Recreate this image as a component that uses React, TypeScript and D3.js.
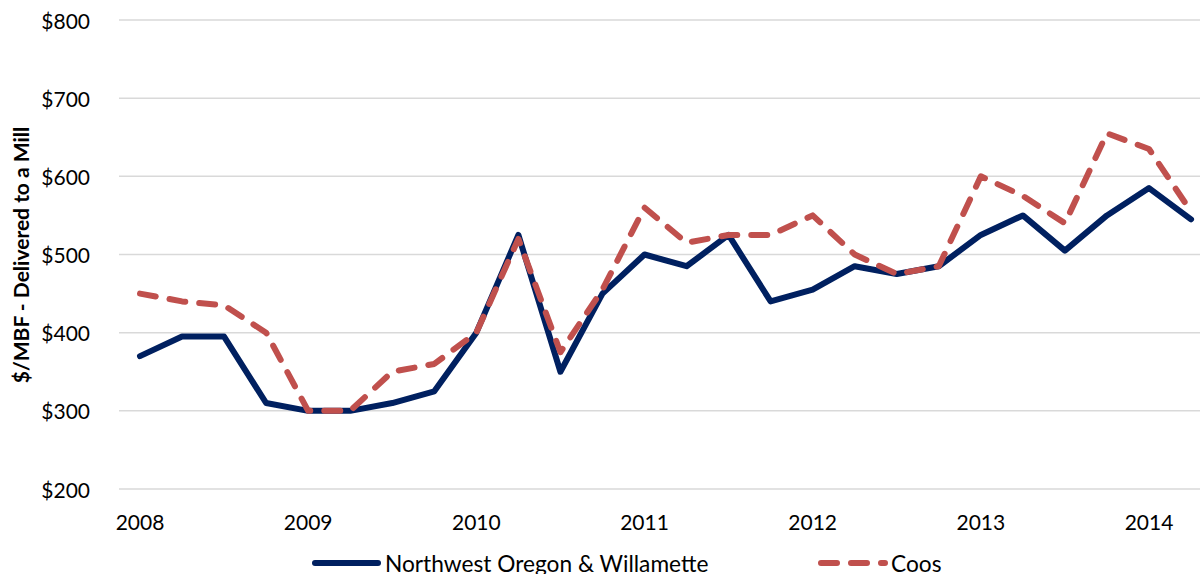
import React from "react";
import * as d3 from "d3";

// Quarterly log prices, $/MBF delivered to a mill
const quarters: number[] = [
  2008, 2008.25, 2008.5, 2008.75,
  2009, 2009.25, 2009.5, 2009.75,
  2010, 2010.25, 2010.5, 2010.75,
  2011, 2011.25, 2011.5, 2011.75,
  2012, 2012.25, 2012.5, 2012.75,
  2013, 2013.25, 2013.5, 2013.75,
  2014, 2014.25,
];

const nwOregonWillamette: number[] = [
  370, 395, 395, 310,
  300, 300, 310, 325,
  400, 525, 350, 450,
  500, 485, 525, 440,
  455, 485, 475, 485,
  525, 550, 505, 550,
  585, 545,
];

const coos: number[] = [
  450, 440, 435, 400,
  300, 300, 350, 360,
  400, 520, 375, 455,
  560, 515, 525, 525,
  550, 500, 475, 485,
  600, 575, 540, 655,
  635, 555,
];

const yTicks: number[] = [200, 300, 400, 500, 600, 700, 800];
const xTicks: number[] = [2008, 2009, 2010, 2011, 2012, 2013, 2014];

const seriesNames = ["Northwest Oregon & Willamette", "Coos"];

const WIDTH = 1200;
const HEIGHT = 574;
const NAVY = "#002060";
const RED = "#C0504D";
const GRID = "#D9D9D9";
const FONT = "Lato, 'Open Sans', sans-serif";

export default function App() {
  const x = d3.scaleLinear().domain([2008, 2014]).range([140, 1149]);
  const y = d3.scaleLinear().domain([200, 800]).range([489, 20]);

  const line = d3
    .line<[number, number]>()
    .x((d) => x(d[0]))
    .y((d) => y(d[1]));

  const navyPts: [number, number][] = quarters.map((q, i) => [q, nwOregonWillamette[i]]);
  const coosPts: [number, number][] = quarters.map((q, i) => [q, coos[i]]);

  return (
    <svg
      width={WIDTH}
      height={HEIGHT}
      style={{ position: "absolute", left: 0, top: 0, background: "#fff" }}
      fontFamily={FONT}
    >
      {/* horizontal gridlines */}
      {yTicks.map((t) => (
        <line
          key={`g${t}`}
          x1={119}
          x2={1200}
          y1={y(t)}
          y2={y(t)}
          stroke={GRID}
          strokeWidth={1.5}
        />
      ))}

      {/* y tick labels */}
      {yTicks.map((t) => (
        <text
          key={`yl${t}`}
          x={90}
          y={y(t)}
          textAnchor="end"
          dominantBaseline="central"
          fontSize={21}
          fill="#000"
        >
          {d3.format("$,")(t)}
        </text>
      ))}

      {/* x tick labels */}
      {xTicks.map((t) => (
        <text
          key={`xl${t}`}
          x={x(t)}
          y={521}
          textAnchor="middle"
          dominantBaseline="central"
          fontSize={21}
          fill="#000"
        >
          {t}
        </text>
      ))}

      {/* y axis title */}
      <text
        transform={`translate(20, 255) rotate(-90)`}
        textAnchor="middle"
        dominantBaseline="central"
        fontSize={21}
        fontWeight="bold"
        fill="#000"
      >
        $/MBF - Delivered to a Mill
      </text>

      {/* series */}
      <path
        d={line(navyPts) ?? ""}
        fill="none"
        stroke={NAVY}
        strokeWidth={6}
        strokeLinejoin="round"
        strokeLinecap="round"
      />
      <path
        d={line(coosPts) ?? ""}
        fill="none"
        stroke={RED}
        strokeWidth={6}
        strokeDasharray="16 14"
        strokeLinejoin="round"
        strokeLinecap="round"
      />

      {/* legend */}
      <line x1={315} x2={378} y1={563} y2={563} stroke={NAVY} strokeWidth={6} strokeLinecap="round" />
      <text x={385} y={563} dominantBaseline="central" fontSize={22.7} fill="#000">
        {seriesNames[0]}
      </text>
      <line
        x1={821}
        x2={885}
        y1={563}
        y2={563}
        stroke={RED}
        strokeWidth={6}
        strokeDasharray="16 14"
        strokeLinecap="round"
      />
      <text x={891} y={563} dominantBaseline="central" fontSize={22.7} fill="#000">
        {seriesNames[1]}
      </text>
    </svg>
  );
}
